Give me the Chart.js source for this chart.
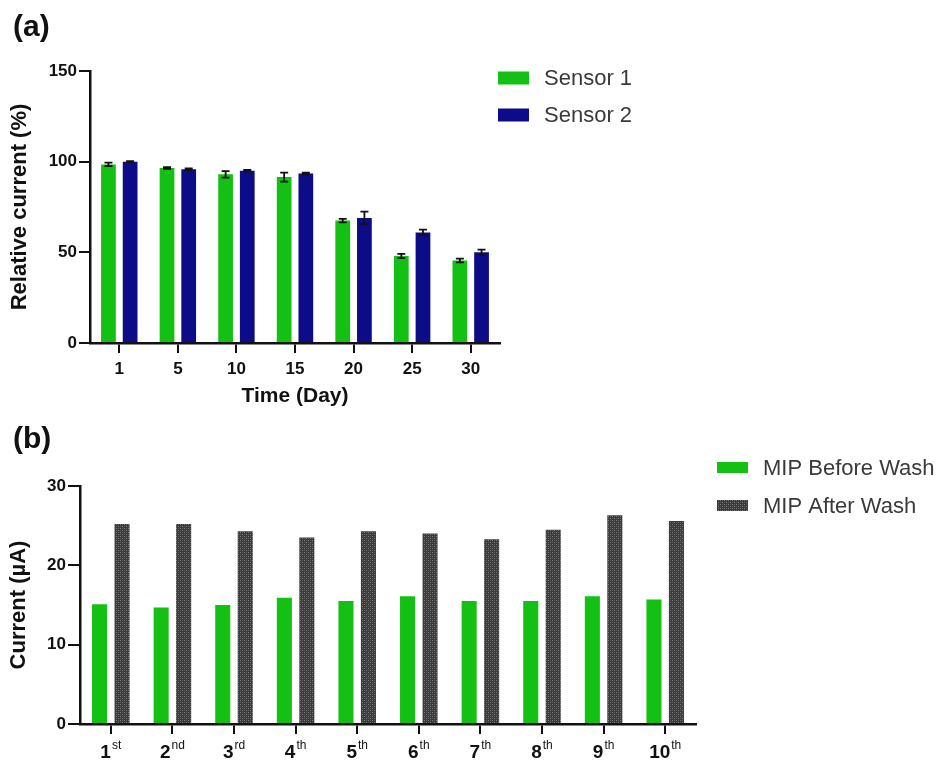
<!DOCTYPE html>
<html>
<head>
<meta charset="utf-8">
<script src="https://cdn.jsdelivr.net/npm/chart.js@4.4.0/dist/chart.umd.min.js"></script>
<style>
  html, body { margin: 0; padding: 0; background: #fff; }
  #wrap { position: relative; width: 943px; height: 762px; }
  canvas { position: absolute; left: 0; }
  #stability { top: 0; width: 943px; height: 420px; }
  #wash { top: 420px; width: 943px; height: 342px; }
</style>
</head>
<body>
<div id="wrap">
  <canvas id="stability" width="943" height="420"></canvas>
  <canvas id="wash" width="943" height="342"></canvas>
</div>
<script>
// panel (a): relative current over storage time
const days = ['1', '5', '10', '15', '20', '25', '30'];
const sensor1 = [98.5, 96.5, 93, 91.5, 67.5, 48, 45.5];
const sensor1Err = [1, 0.5, 1.8, 2.5, 1, 1.2, 1];
const sensor2 = [100, 95.8, 95, 93.5, 69, 61, 50];
const sensor2Err = [0.3, 0.5, 0.4, 0.4, 3.5, 1.5, 1.5];
const stabilityTicks = [0, 50, 100, 150];

// panel (b): MIP current before / after washing, per cycle
const cycles = ['1st', '2nd', '3rd', '4th', '5th', '6th', '7th', '8th', '9th', '10th'];
const beforeWash = [15.1, 14.7, 15.0, 15.9, 15.5, 16.1, 15.5, 15.5, 16.1, 15.7];
const afterWash = [25.2, 25.2, 24.3, 23.5, 24.3, 24.0, 23.3, 24.5, 26.3, 25.6];
const washTicks = [0, 10, 20, 30];

const FONT = '"Liberation Sans", Arial, Helvetica, sans-serif';
const GREEN = '#14c014';
const NAVY = '#0c0c88';
Chart.defaults.font.family = FONT;
Chart.defaults.color = '#111';

// dotted dark grey fill used for the "after wash" bars
function checkerFill(ctx) {
  const c = document.createElement('canvas');
  c.width = 4; c.height = 4;
  const g = c.getContext('2d');
  g.fillStyle = '#3b3b3b'; g.fillRect(0, 0, 4, 4);
  g.fillStyle = '#7c7c7c';
  g.fillRect(0, 0, 1, 1); g.fillRect(2, 2, 1, 1);
  g.fillStyle = '#5a5a5a';
  g.fillRect(2, 0, 1, 1); g.fillRect(0, 2, 1, 1);
  return ctx.createPattern(c, 'repeat');
}

const panelLetter = {
  id: 'panelLetter',
  afterDraw(chart, args, opts) {
    const ctx = chart.ctx;
    ctx.save();
    ctx.font = 'bold 30px ' + FONT;
    ctx.fillStyle = '#111';
    ctx.textAlign = 'left';
    ctx.textBaseline = 'alphabetic';
    ctx.fillText(opts.text, opts.x, opts.y);
    ctx.restore();
  }
};

const boxLegend = {
  id: 'boxLegend',
  afterDraw(chart, args, opts) {
    const ctx = chart.ctx;
    ctx.save();
    ctx.font = '22px ' + FONT;
    ctx.textAlign = 'left';
    ctx.textBaseline = 'middle';
    chart.data.datasets.forEach((ds, i) => {
      const y = opts.y + i * opts.gap;
      ctx.fillStyle = ds.backgroundColor;
      ctx.fillRect(opts.x, y - opts.h / 2, 31, opts.h);
      ctx.fillStyle = '#3a3a3a';
      ctx.fillText(ds.label, opts.x + 46, y + 1);
    });
    ctx.restore();
  }
};

const errorBars = {
  id: 'errorBars',
  afterDatasetsDraw(chart) {
    const ctx = chart.ctx;
    const ys = chart.scales.y;
    ctx.save();
    ctx.strokeStyle = '#111';
    ctx.lineWidth = 1.8;
    chart.data.datasets.forEach((ds, i) => {
      if (!ds.errors) return;
      chart.getDatasetMeta(i).data.forEach((bar, j) => {
        const top = ys.getPixelForValue(ds.data[j] + ds.errors[j]);
        const bot = ys.getPixelForValue(ds.data[j] - ds.errors[j]);
        ctx.beginPath();
        ctx.moveTo(bar.x, top); ctx.lineTo(bar.x, bot);
        ctx.moveTo(bar.x - 4, top); ctx.lineTo(bar.x + 4, top);
        ctx.moveTo(bar.x - 4, bot); ctx.lineTo(bar.x + 4, bot);
        ctx.stroke();
      });
    });
    ctx.restore();
  }
};

// ordinal labels with raised suffix (1st, 2nd ...)
const ordinalTicks = {
  id: 'ordinalTicks',
  afterDraw(chart, args, opts) {
    const ctx = chart.ctx;
    const xs = chart.scales.x;
    ctx.save();
    ctx.fillStyle = '#111';
    ctx.textAlign = 'left';
    ctx.textBaseline = 'alphabetic';
    chart.data.labels.forEach((lab, i) => {
      const m = lab.match(/^(\d+)(\D+)$/);
      ctx.font = 'bold 19px ' + FONT;
      const wNum = ctx.measureText(m[1]).width;
      ctx.font = '12px ' + FONT;
      const wSup = ctx.measureText(m[2]).width;
      const x0 = xs.getPixelForTick(i) - (wNum + wSup + 1) / 2;
      ctx.font = 'bold 19px ' + FONT;
      ctx.fillText(m[1], x0, opts.baseline);
      ctx.font = '12px ' + FONT;
      ctx.fillText(m[2], x0 + wNum + 1, opts.baseline - 9);
    });
    ctx.restore();
  }
};

function yAxis(max, ticks, width, title, titlePad, tickLen) {
  return {
    min: 0, max: max,
    afterBuildTicks: s => { s.ticks = ticks.map(v => ({ value: v })); },
    afterFit: s => { s.width = width; },
    border: { display: true, color: '#111', width: 2.5 },
    grid: { drawOnChartArea: false, drawTicks: true, tickLength: tickLen, color: '#111', lineWidth: 2 },
    ticks: { font: { size: 17, weight: 'bold' }, color: '#111', padding: 2 },
    title: { display: true, text: title, font: { size: 22, weight: 'bold' }, color: '#111', padding: { top: titlePad, bottom: 0 } }
  };
}

// ---- panel (a)
const stabCtx = document.getElementById('stability').getContext('2d');
new Chart(stabCtx, {
  type: 'bar',
  data: {
    labels: days,
    datasets: [
      { label: 'Sensor 1', data: sensor1, errors: sensor1Err, backgroundColor: GREEN,
        categoryPercentage: 0.74, barPercentage: 0.68 },
      { label: 'Sensor 2', data: sensor2, errors: sensor2Err, backgroundColor: NAVY,
        categoryPercentage: 0.74, barPercentage: 0.68 }
    ]
  },
  options: {
    responsive: false,
    animation: false,
    layout: { padding: { left: 0, top: 71, right: 443, bottom: 0 } },
    plugins: {
      legend: { display: false },
      tooltip: { enabled: false },
      panelLetter: { text: '(a)', x: 13, y: 36 },
      boxLegend: { x: 498, y: 78, gap: 37, h: 13 }
    },
    scales: {
      x: {
        afterFit: s => { s.height = 77; },
        border: { display: true, color: '#111', width: 2.5 },
        grid: { offset: false, drawOnChartArea: false, tickLength: 10, color: '#111', lineWidth: 2 },
        ticks: { font: { size: 17, weight: 'bold' }, color: '#111', padding: 6, maxRotation: 0 },
        title: { display: true, text: 'Time (Day)', font: { size: 21, weight: 'bold' }, color: '#111', padding: { top: 0, bottom: 11 } }
      },
      y: yAxis(150, stabilityTicks, 90, 'Relative current (%)', 7, 11)
    }
  },
  plugins: [errorBars, boxLegend, panelLetter]
});

// ---- panel (b)
const washCtx = document.getElementById('wash').getContext('2d');
new Chart(washCtx, {
  type: 'bar',
  data: {
    labels: cycles,
    datasets: [
      { label: 'MIP Before Wash', data: beforeWash, backgroundColor: GREEN,
        categoryPercentage: 0.73, barPercentage: 0.67 },
      { label: 'MIP After Wash', data: afterWash, backgroundColor: checkerFill(washCtx),
        categoryPercentage: 0.73, barPercentage: 0.67 }
    ]
  },
  options: {
    responsive: false,
    animation: false,
    layout: { padding: { left: 0, top: 66, right: 247, bottom: 0 } },
    plugins: {
      legend: { display: false },
      tooltip: { enabled: false },
      panelLetter: { text: '(b)', x: 13, y: 28 },
      boxLegend: { x: 717, y: 47.5, gap: 38, h: 11 },
      ordinalTicks: { baseline: 338 }
    },
    scales: {
      x: {
        afterFit: s => { s.height = 38; },
        border: { display: true, color: '#111', width: 2.5 },
        grid: { offset: false, drawOnChartArea: false, tickLength: 10, color: '#111', lineWidth: 2 },
        ticks: { display: false }
      },
      y: yAxis(30, washTicks, 80, 'Current (µA)', 6, 12)
    }
  },
  plugins: [boxLegend, panelLetter, ordinalTicks]
});
</script>
</body>
</html>
